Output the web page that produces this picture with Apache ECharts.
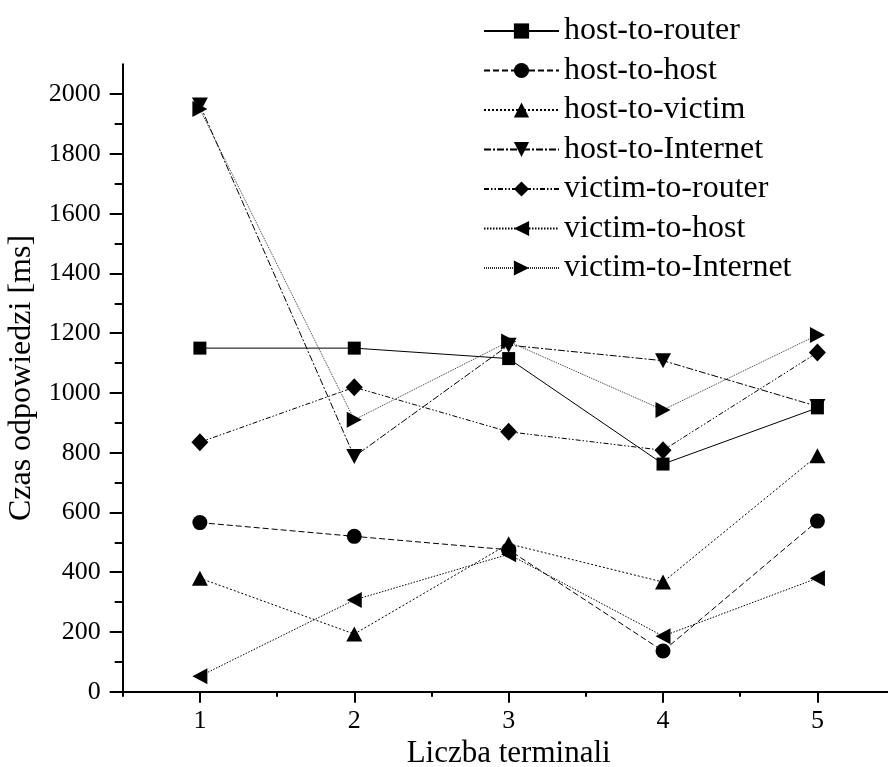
<!DOCTYPE html>
<html>
<head>
<meta charset="utf-8">
<style>html,body{margin:0;padding:0;background:#fff;}#c{width:888px;height:767px;}</style>
<script src="https://cdn.jsdelivr.net/npm/echarts@6/dist/echarts.min.js"></script>
</head>
<body>
<div id="c"></div>
<script>
var terminals = [1, 2, 3, 4, 5];
var seriesNames = ['host-to-router', 'host-to-host', 'host-to-victim', 'host-to-Internet', 'victim-to-router', 'victim-to-host', 'victim-to-Internet'];
var hostToRouter = [1150, 1150, 1115, 762, 950];
var hostToHost = [566, 520, 475, 136, 571];
var hostToVictim = [380, 193, 495, 367, 790];
var hostToInternet = [1964, 787, 1160, 1108, 955];
var victimToRouter = [835, 1019, 870, 808, 1135];
var victimToHost = [52, 307, 460, 186, 380];
var victimToInternet = [1950, 910, 1172, 943, 1194];
var yTicks = [0, 200, 400, 600, 800, 1000, 1200, 1400, 1600, 1800, 2000];

var values = [hostToRouter, hostToHost, hostToVictim, hostToInternet, victimToRouter, victimToHost, victimToInternet];
var symbols = [
  'rect',
  'circle',
  'path://M5,0 L10,9 L0,9 Z',
  'path://M0,0 L10,0 L5,9 Z',
  'diamond',
  'path://M0,5 L9,0 L9,10 Z',
  'path://M0,0 L9,5 L0,10 Z'
];
var sizes = [13, 15, [16, 15], [16, 15], [17, 18], [15, 16], [15, 16]];
var dashes = ['solid', [6, 3], [2, 2], [7, 2, 2, 2], [5, 2, 1.5, 2, 1.5, 2], [1.5, 1.5], [1, 1]];
var lineColors = ['#000', '#000', '#000', '#000', '#000', '#000', '#333'];

var font = 'Liberation Serif';
var series = seriesNames.map(function (n, i) {
  return {
    name: n,
    type: 'line',
    xAxisIndex: 0,
    yAxisIndex: 0,
    data: terminals.map(function (t, j) { return [t, values[i][j]]; }),
    symbol: symbols[i],
    symbolSize: sizes[i],
    showAllSymbol: true,
    itemStyle: { color: '#000' },
    lineStyle: { color: lineColors[i], width: 1, type: dashes[i] },
    emphasis: { disabled: true },
    animation: false
  };
});

var chart = echarts.init(document.getElementById('c'), null, { renderer: 'canvas' });
chart.setOption({
  animation: false,
  backgroundColor: '#fff',
  textStyle: { fontFamily: font, color: '#000' },
  grid: { left: 122.7, top: 64.3, bottom: 75.3, right: -6.6, containLabel: false, outerBoundsMode: 'none' },
  legend: {
    orient: 'vertical',
    left: 478,
    top: 10,
    itemWidth: 75,
    itemHeight: 19,
    itemGap: 7.5,
    textStyle: { fontFamily: font, fontSize: 32, color: '#000' },
    data: seriesNames,
    inactiveColor: '#000'
  },
  xAxis: [{
    type: 'value',
    min: 0.5,
    max: 5.5,
    name: 'Liczba terminali',
    nameLocation: 'middle',
    nameGap: 45,
    nameTextStyle: { fontFamily: font, fontSize: 31, color: '#000' },
    axisLine: { show: true, lineStyle: { color: '#000', width: 2 } },
    axisTick: { show: true, inside: false, length: 11, lineStyle: { color: '#000', width: 2 }, customValues: terminals },
    axisLabel: { show: true, fontFamily: font, fontSize: 26, color: '#000', margin: 16, customValues: terminals, formatter: function (v) { return String(v); } },
    splitLine: { show: false }
  }, {
    type: 'value',
    min: 0.5,
    max: 5.5,
    interval: 0.5,
    position: 'bottom',
    axisLine: { show: false },
    axisTick: { show: true, length: 5, lineStyle: { color: '#000', width: 2 } },
    axisLabel: { show: false },
    splitLine: { show: false }
  }],
  yAxis: [{
    type: 'value',
    min: 0,
    max: 2100,
    interval: 200,
    name: 'Czas odpowiedzi [ms]',
    nameLocation: 'middle',
    nameGap: 77,
    nameTextStyle: { fontFamily: font, fontSize: 32, color: '#000' },
    axisLine: { show: true, lineStyle: { color: '#000', width: 2 } },
    axisTick: { show: true, length: 13, lineStyle: { color: '#000', width: 2 }, customValues: yTicks },
    minorTick: { show: true, splitNumber: 2, length: 8, lineStyle: { color: '#000', width: 2 } },
    axisLabel: { show: true, fontFamily: font, fontSize: 26, color: '#000', margin: 22, customValues: yTicks, formatter: function (v) { return String(v); } },
    splitLine: { show: false },
    minorSplitLine: { show: false }
  }],
  series: series
});
</script>
</body>
</html>
